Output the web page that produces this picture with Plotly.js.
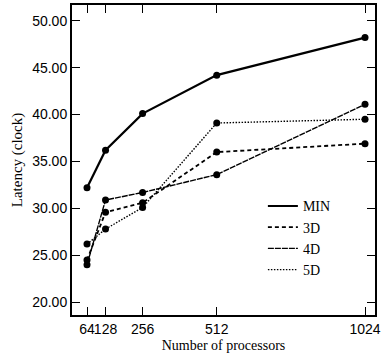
<!DOCTYPE html>
<html>
<head>
<meta charset="utf-8">
<script src="https://cdn.plot.ly/plotly-3.0.1.min.js"></script>
<style>html,body{margin:0;padding:0;background:#fff;}#chart{width:385px;height:362px;}</style>
</head>
<body>
<div id="chart"></div>
<script>
const procs = [64, 128, 256, 512, 1024];
const latMIN = [32.2, 36.2, 40.1, 44.2, 48.2];
const lat3D = [24.5, 29.6, 30.6, 36.0, 36.9];
const lat4D = [24.0, 30.9, 31.7, 33.6, 41.1];
const lat5D = [26.2, 27.8, 30.1, 39.1, 39.5];
const seriesNames = ['MIN', '3D', '4D', '5D'];
const yTicks = [20, 25, 30, 35, 40, 45, 50];

const allSeries = [latMIN, lat3D, lat4D, lat5D];
const styles = [
  {width: 2.2, dash: 'solid'},
  {width: 1.8, dash: '4px,3px'},
  {width: 1.4, dash: '6px,1px'},
  {width: 1.4, dash: '1.5px,1.5px'}
];
const traces = [];
allSeries.forEach((ys, i) => {
  traces.push({
    x: procs, y: ys, name: seriesNames[i], mode: 'lines', type: 'scatter',
    line: {color: '#000', width: styles[i].width, dash: styles[i].dash},
    showlegend: true
  });
});
allSeries.forEach((ys, i) => {
  traces.push({
    x: procs, y: ys, name: seriesNames[i], mode: 'markers', type: 'scatter',
    marker: {color: '#000', size: 7}, showlegend: false, hoverinfo: 'skip'
  });
});

const layout = {
  width: 385, height: 362,
  margin: {l: 72, r: 10, t: 5, b: 47},
  paper_bgcolor: '#fff', plot_bgcolor: '#fff',
  font: {family: 'Liberation Sans, Arial, sans-serif', color: '#000', size: 14},
  showlegend: true,
  legend: {
    x: 0.63, y: 0.402, xanchor: 'left', yanchor: 'top',
    bgcolor: 'rgba(0,0,0,0)', borderwidth: 0,
    font: {family: 'Liberation Serif, Times New Roman, serif', size: 14, color: '#000'},
    tracegroupgap: 0
  },
  xaxis: {
    range: [12.2, 1058.5],
    tickvals: procs, ticktext: procs.map(String), tickangle: 0,
    ticks: 'inside', ticklen: 8, tickwidth: 1, tickcolor: '#000',
    showline: true, linewidth: 2, linecolor: '#000', mirror: 'ticks',
    showgrid: false, zeroline: false,
    tickfont: {family: 'Liberation Sans, Arial, sans-serif', size: 14},
    title: {text: 'Number of processors', font: {family: 'Liberation Serif, Times New Roman, serif', size: 14}, standoff: 4}
  },
  yaxis: {
    range: [18.65, 51.67],
    tickvals: yTicks, ticktext: yTicks.map(v => v.toFixed(2)),
    ticks: 'inside', ticklen: 8, tickwidth: 1, tickcolor: '#000',
    showline: true, linewidth: 2, linecolor: '#000', mirror: 'ticks',
    showgrid: false, zeroline: false,
    tickfont: {family: 'Liberation Sans, Arial, sans-serif', size: 14},
    ticklabelstandoff: 0,
    title: {text: 'Latency (clock)', font: {family: 'Liberation Serif, Times New Roman, serif', size: 15}, standoff: 6}
  }
};
Plotly.newPlot('chart', traces, layout, {staticPlot: true, displayModeBar: false});
</script>
</body>
</html>
